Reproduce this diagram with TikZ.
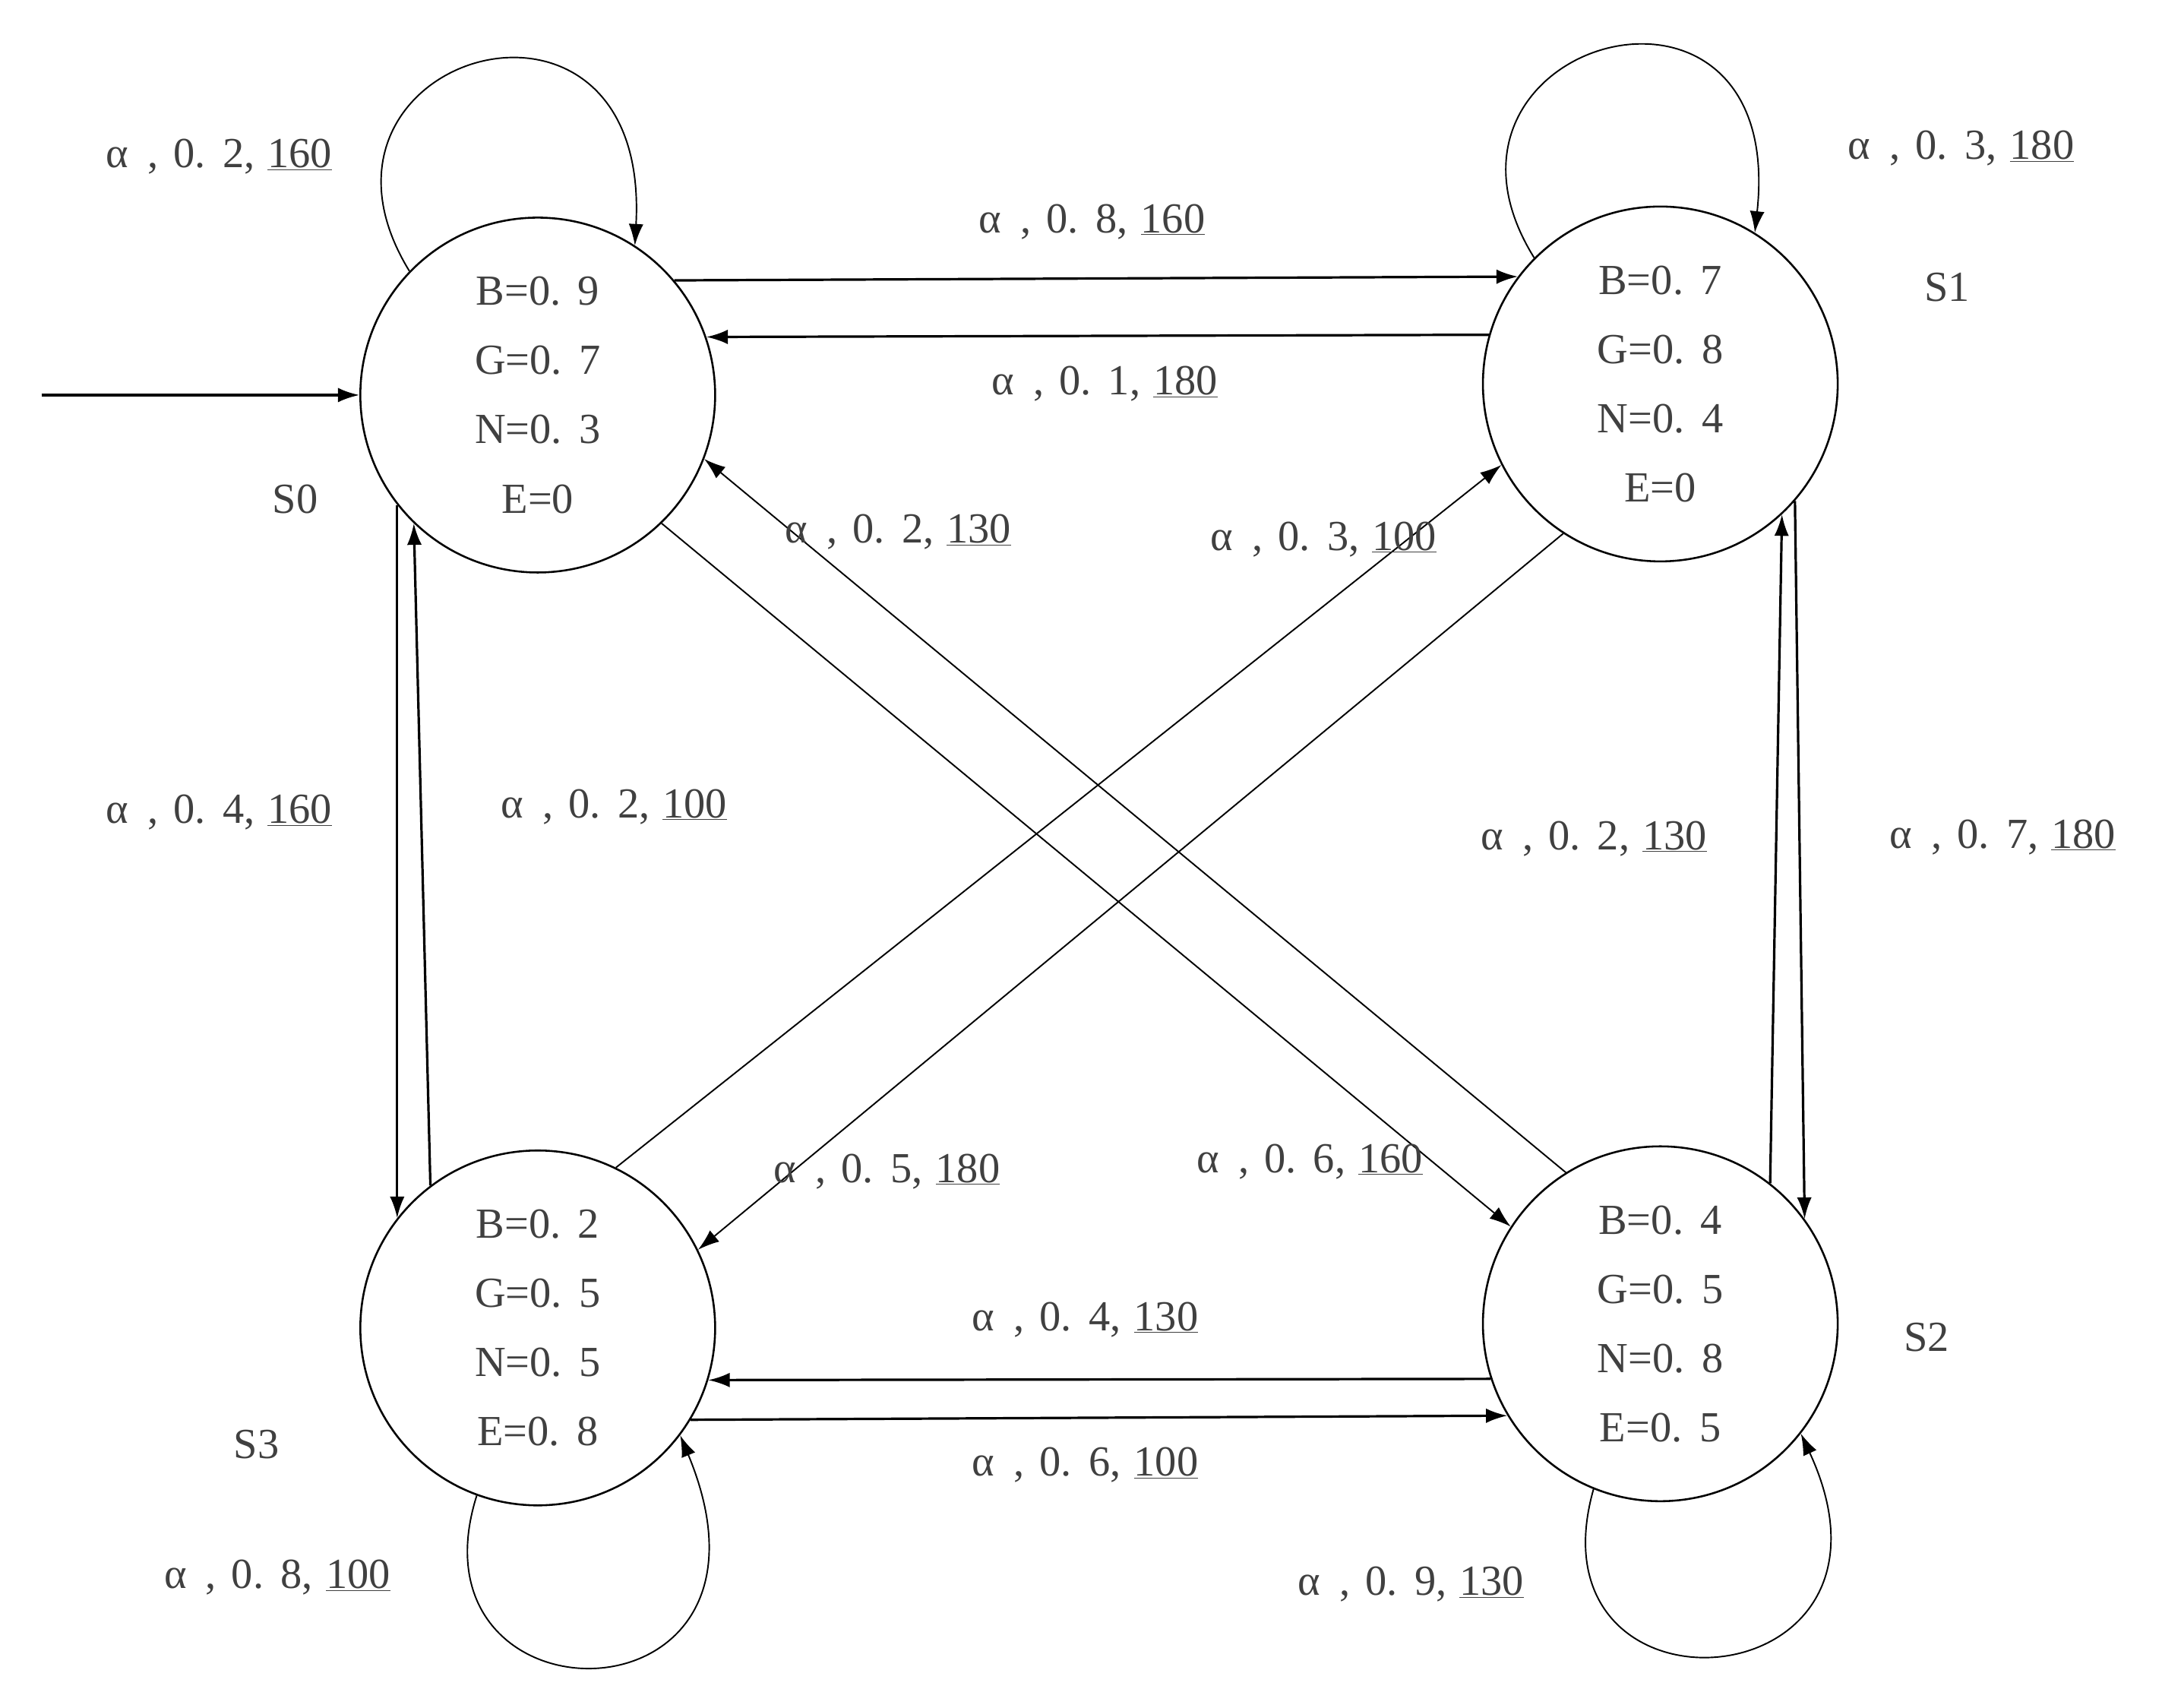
\documentclass[tikz,border=0pt]{standalone}
\usepackage{fontspec}
\setmainfont{Liberation Serif}
\usetikzlibrary{arrows.meta}
\newcommand{\elab}[3]{α\hspace{0.45em},\hspace{0.35em}#1.\hspace{0.4em}#2,\hspace{0.3em}\underline{#3}}
\newcommand{\dg}[2]{#1.\hspace{0.4em}#2}
\begin{document}
\begin{tikzpicture}[x=0.05cm,y=-0.05cm,
  st/.style={circle,draw,line width=2pt,minimum size=256*0.05cm,inner sep=0pt,align=center,font=\fontsize{44}{71}\selectfont,text=black!75},
  ed/.style={line width=2.5pt,-{Latex[length=22pt,width=15pt]}},
  th/.style={line width=1.5pt},
  lb/.style={font=\fontsize{44}{50}\selectfont,text=black!75}]
\useasboundingbox (0,0) rectangle (1560,1232);
\node[st] (s0) at (388,285) {B=\dg{0}{9}\\G=\dg{0}{7}\\N=\dg{0}{3}\\E=0};
\node[st] (s1) at (1198,277) {B=\dg{0}{7}\\G=\dg{0}{8}\\N=\dg{0}{4}\\E=0};
\node[st] (s2) at (1198,955) {B=\dg{0}{4}\\G=\dg{0}{5}\\N=\dg{0}{8}\\E=\dg{0}{5}};
\node[st] (s3) at (388,958) {B=\dg{0}{2}\\G=\dg{0}{5}\\N=\dg{0}{5}\\E=\dg{0}{8}};
\coordinate (init) at (30,285);
\draw[ed] (init) -- (s0);
\draw[ed] (s0.40) -- (s1.143);
\draw[ed] (s1.164) -- (s0.19);
\draw[ed] (s0.218) -- (s3.142);
\draw[ed] (s3.127) -- (s0.226);
\draw[ed] (s1.-41) -- (s2.36);
\draw[ed] (s2.52) -- (s1.-47);
\draw[ed] (s2.198) -- (s3.-17);
\draw[ed] (s3.-31) -- (s2.211);
\draw[ed,th] (s0.-46) -- (s2.147);
\draw[ed,th] (s2.122) -- (s0.-21);
\draw[ed,th] (s3.64) -- (s1.207);
\draw[ed,th] (s1.237) -- (s3.26);
\draw[ed,th] (s0.136) .. controls (200,40) and (470,-40) .. (s0.57);
\draw[ed,th] (s1.135) .. controls (1010,30) and (1290,-50) .. (s1.58);
\draw[ed,th] (s3.250) .. controls (290,1250) and (580,1250) .. (s3.323);
\draw[ed,th] (s2.248) .. controls (1100,1250) and (1390,1230) .. (s2.322);
\node[lb] (l1) at (158,113) {\elab{0}{2}{160}};
\node[lb] (l2) at (788,160) {\elab{0}{8}{160}};
\node[lb] (l3) at (797,277) {\elab{0}{1}{180}};
\node[lb] (l4) at (1415,107) {\elab{0}{3}{180}};
\node[lb] (l5) at (648,384) {\elab{0}{2}{130}};
\node[lb] (l6) at (955,389) {\elab{0}{3}{100}};
\node[lb] (l7) at (158,586) {\elab{0}{4}{160}};
\node[lb] (l8) at (443,582) {\elab{0}{2}{100}};
\node[lb] (l9) at (1150,605) {\elab{0}{2}{130}};
\node[lb] (l10) at (1445,604) {\elab{0}{7}{180}};
\node[lb] (l11) at (640,845) {\elab{0}{5}{180}};
\node[lb] (l12) at (945,838) {\elab{0}{6}{160}};
\node[lb] (l13) at (783,952) {\elab{0}{4}{130}};
\node[lb] (l14) at (783,1057) {\elab{0}{6}{100}};
\node[lb] (l15) at (200,1138) {\elab{0}{8}{100}};
\node[lb] (l16) at (1018,1143) {\elab{0}{9}{130}};
\node[lb] (n0) at (213,360) {S0};
\node[lb] (n1) at (1405,207) {S1};
\node[lb] (n2) at (1390,965) {S2};
\node[lb] (n3) at (185,1042) {S3};
\end{tikzpicture}
\end{document}
